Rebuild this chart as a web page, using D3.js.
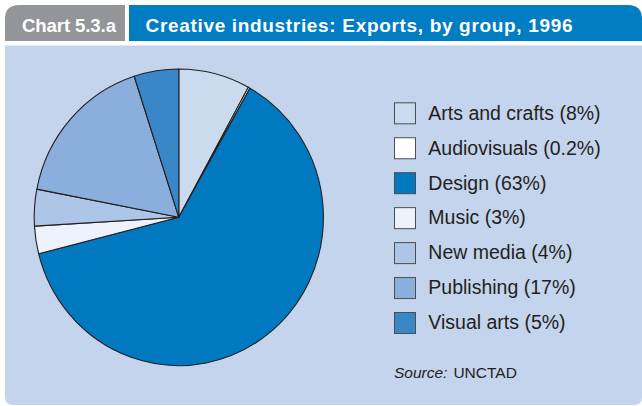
<!DOCTYPE html>
<html>
<head>
<meta charset="utf-8">
<script src="https://cdn.jsdelivr.net/npm/d3@7"></script>
<style>
  html, body { margin: 0; padding: 0; background: #ffffff; }
  svg { display: block; font-family: "Liberation Sans", Arial, Helvetica, sans-serif; }
</style>
</head>
<body>
<svg id="chart" width="642" height="406"></svg>
<script>
// Export shares by creative-industry group, 1996 (%)
const groups = ["Arts and crafts", "Audiovisuals", "Design", "Music", "New media", "Publishing", "Visual arts"];
const shares = [8, 0.2, 63, 3, 4, 17, 5];
const shareLabels = ["8%", "0.2%", "63%", "3%", "4%", "17%", "5%"];
const groupColors = ["#cadbf0", "#ffffff", "#0079c1", "#eef2fa", "#adc6e8", "#8aafdc", "#3a87c8"];

const chartNumber = "Chart 5.3.a";
const chartTitle = "Creative industries: Exports, by group, 1996";
const sourceLabel = "Source:";
const sourceName = "UNCTAD";

const W = 642, H = 406;
const svg = d3.select("#chart");

// Rounded-top rectangle path helper
function tabPath(x, y, w, h, rl, rr) {
  return `M${x},${y + h} L${x},${y + rl} Q${x},${y} ${x + rl},${y} ` +
         `L${x + w - rr},${y} Q${x + w},${y} ${x + w},${y + rr} L${x + w},${y + h} Z`;
}

// Header tabs
svg.append("path").attr("d", tabPath(5, 5, 120, 36, 14, 0)).attr("fill", "#939598");
svg.append("path").attr("d", tabPath(129, 5, 513, 36, 0, 14)).attr("fill", "#007dc3");

svg.append("text")
  .attr("x", 22).attr("y", 31.5)
  .attr("fill", "#ffffff").attr("font-weight", "bold").attr("font-size", 18.6)
  .attr("textLength", 94).attr("lengthAdjust", "spacing")
  .text(chartNumber);
svg.append("text")
  .attr("x", 145.5).attr("y", 31.5)
  .attr("fill", "#ffffff").attr("font-weight", "bold").attr("font-size", 19)
  .attr("textLength", 427).attr("lengthAdjust", "spacing")
  .text(chartTitle);

// Panel
svg.append("path")
  .attr("d", `M5,45.5 L642,45.5 L642,397 Q642,405 634,405 L13,405 Q5,405 5,397 Z`)
  .attr("fill", "#c3d4ec");

// Pie
const cx = 178.8, cy = 217.3, r = 148.3, xScale = 0.975;
const pie = d3.pie().sort(null).value(d => d.value).startAngle(0).endAngle(2 * Math.PI);
const arc = d3.arc().innerRadius(0).outerRadius(r);
const data = groups.map((g, i) => ({ name: g, value: shares[i], color: groupColors[i] }));

const pieG = svg.append("g").attr("transform", `translate(${cx},${cy}) scale(${xScale},1)`);
pieG.selectAll("path")
  .data(pie(data))
  .join("path")
  .attr("d", arc)
  .attr("fill", d => d.data.color)
  .attr("stroke", "#231f20")
  .attr("stroke-width", 1.1)
  .attr("stroke-linejoin", "round")
  .attr("vector-effect", "non-scaling-stroke");

// Legend
const legendY = d3.scalePoint().domain(groups).range([113.3, 323]);
const legend = svg.append("g");
const rows = legend.selectAll("g.row")
  .data(data)
  .join("g")
  .attr("class", "row")
  .attr("transform", d => `translate(0,${legendY(d.name)})`);
rows.append("rect")
  .attr("x", 394.5).attr("y", -10.5).attr("width", 21).attr("height", 21)
  .attr("fill", d => d.color)
  .attr("stroke", "#4d4d4f").attr("stroke-width", 1);
rows.append("text")
  .attr("x", 428.3).attr("y", 6.3)
  .attr("fill", "#231f20").attr("font-size", 19.5)
  .text((d, i) => `${d.name} (${shareLabels[i]})`);

// Source
const src = svg.append("text").attr("x", 394).attr("y", 378.3)
  .attr("fill", "#231f20").attr("font-size", 15.5);
src.append("tspan").attr("font-style", "italic").text(sourceLabel);
src.append("tspan").attr("dx", 6).text(sourceName);
</script>
</body>
</html>
